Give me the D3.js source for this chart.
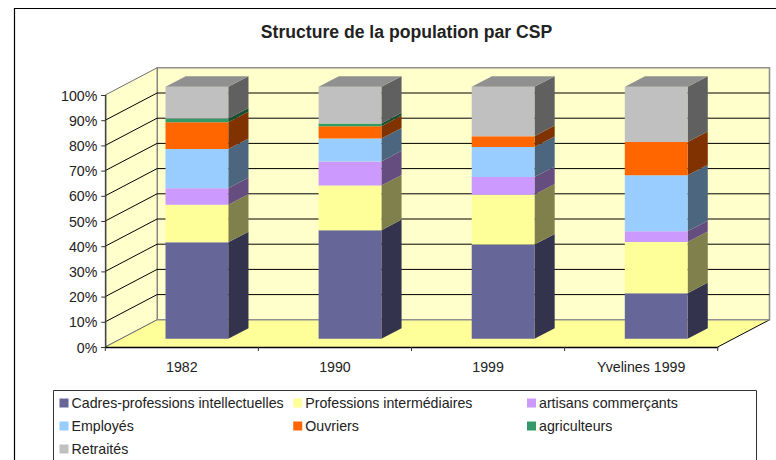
<!DOCTYPE html>
<html>
<head>
<meta charset="utf-8">
<script src="https://cdn.jsdelivr.net/npm/d3@7"></script>
<style>
html, body { margin: 0; padding: 0; background: #fff; }
svg { display: block; }
text { font-family: "Liberation Sans", Arial, sans-serif; fill: #222; }
</style>
</head>
<body>
<div id="chart"></div>
<script>
const categories = ["1982", "1990", "1999", "Yvelines 1999"];
const seriesNames = ["Cadres-professions intellectuelles", "Professions intermédiaires", "artisans commerçants", "Employés", "Ouvriers", "agriculteurs", "Retraités"];
const seriesColors = ["#666699", "#FFFF99", "#CC99FF", "#99CCFF", "#FF6600", "#339966", "#C0C0C0"];
const sideColors = ["#33334D", "#80804D", "#664D80", "#4D6680", "#803300", "#1A4D33", "#606060"];
const cadres = [38.3, 43.1, 37.4, 18.1];
const intermediaires = [14.9, 17.7, 19.8, 20.3];
const artisans = [6.6, 9.6, 7.0, 4.3];
const employes = [15.5, 9.1, 11.9, 22.2];
const ouvriers = [10.6, 4.9, 4.3, 13.2];
const agriculteurs = [1.5, 1.1, 0, 0];
const retraites = [12.6, 14.5, 19.6, 21.9];
const yTicks = [0, 10, 20, 30, 40, 50, 60, 70, 80, 90, 100];

function draw_chart() {
    const width = 776, height = 460;
    const svg = d3.select("#chart").append("svg")
        .attr("width", width)
        .attr("height", height);

    // plot geometry, front plane plus the depth offset of the 3d box
    const front = {left: 105.3, right: 717.7, bottom: 347, top: 95};
    const depth = {x: 51.8, y: -27.2};
    const barPlane = 0.3, barDepth = 0.39;

    const x = d3.scaleBand().domain(categories)
        .range([front.left, front.right])
        .paddingInner(0).paddingOuter(0);
    const y = d3.scaleLinear().domain([0, 100]).range([front.bottom, front.top]);
    const barW = x.bandwidth() * 0.41;

    const rows = categories.map((c, i) => {
        const r = {cat: c};
        [cadres, intermediaires, artisans, employes, ouvriers, agriculteurs, retraites]
            .forEach((s, j) => { r[seriesNames[j]] = s[i]; });
        return r;
    });
    const stacked = d3.stack().keys(seriesNames)(rows);

    const pts = a => a.map(p => p.join(",")).join(" ");
    const back = (px, py, f) => [px + depth.x * f, py + depth.y * f];

    // outer frame, runs off the right and bottom of the picture
    svg.append("path")
        .attr("d", `M14.5,${height}V8.5H${width}`)
        .attr("fill", "none").attr("stroke", "#000").attr("stroke-width", 1.2);

    svg.append("text")
        .attr("x", 406.5).attr("y", 38)
        .attr("text-anchor", "middle")
        .style("font-size", "17.6px").style("font-weight", "bold")
        .text("Structure de la population par CSP");

    // walls and floor
    svg.append("polygon")
        .attr("points", pts([back(front.left, y(0), 1), back(front.right, y(0), 1), back(front.right, y(100), 1), back(front.left, y(100), 1)]))
        .attr("fill", "#FFFFCC").attr("stroke", "#909090").attr("stroke-width", 1.6);
    svg.append("polygon")
        .attr("points", pts([[front.left, y(0)], back(front.left, y(0), 1), back(front.left, y(100), 1), [front.left, y(100)]]))
        .attr("fill", "#FFFFCC").attr("stroke", "#707070");
    svg.append("polygon")
        .attr("points", pts([[front.left, y(0)], [front.right, y(0)], back(front.right, y(0), 1), back(front.left, y(0), 1)]))
        .attr("fill", "#FFFF99").attr("stroke", "none");

    // gridlines on side wall and back wall
    const grid = svg.append("g").attr("stroke", "#000").attr("stroke-width", 1);
    yTicks.filter(t => t > 0 && t < 100).forEach(t => {
        const b0 = back(front.left, y(t), 1), b1 = back(front.right, y(t), 1);
        grid.append("line").attr("x1", front.left).attr("y1", y(t)).attr("x2", b0[0]).attr("y2", b0[1]);
        grid.append("line").attr("x1", b0[0]).attr("y1", b0[1]).attr("x2", b1[0]).attr("y2", b1[1]);
    });

    // floor edges
    svg.append("line")
        .attr("x1", front.left).attr("y1", y(0))
        .attr("x2", back(front.left, y(0), 1)[0]).attr("y2", back(front.left, y(0), 1)[1])
        .attr("stroke", "#707070");
    svg.append("line")
        .attr("x1", front.right).attr("y1", y(0))
        .attr("x2", back(front.right, y(0), 1)[0]).attr("y2", back(front.right, y(0), 1)[1])
        .attr("stroke", "#000");
    svg.append("line")
        .attr("x1", back(front.left, y(0), 1)[0]).attr("y1", back(front.left, y(0), 1)[1])
        .attr("x2", back(front.right, y(0), 1)[0]).attr("y2", back(front.right, y(0), 1)[1])
        .attr("stroke", "#909090").attr("stroke-width", 1.4);

    // bars
    const bars = svg.append("g");
    categories.forEach(c => {
        const x0 = x(c) + x.bandwidth() / 2 - barW / 2 + depth.x * barPlane - 0.5;
        const x1 = x0 + barW;
        stacked.forEach((layer, j) => {
            const d = layer.find(e => e.data.cat === c);
            if (d[1] - d[0] <= 0) return;
            const yb = y(d[0]) + depth.y * barPlane, yt = y(d[1]) + depth.y * barPlane;
            const dx = depth.x * barDepth, dy = depth.y * barDepth;
            bars.append("polygon")
                .attr("points", pts([[x1, yb], [x1 + dx, yb + dy], [x1 + dx, yt + dy], [x1, yt]]))
                .attr("fill", sideColors[j]);
            bars.append("polygon")
                .attr("points", pts([[x0, yb], [x1, yb], [x1, yt], [x0, yt]]))
                .attr("fill", seriesColors[j]);
            if (j === stacked.length - 1) {
                bars.append("polygon")
                    .attr("points", pts([[x0, yt], [x1, yt], [x1 + dx, yt + dy], [x0 + dx, yt + dy]]))
                    .attr("fill", "#909090");
            }
        });
    });

    // axes
    const yAxis = d3.axisLeft(y).tickValues(yTicks).tickSize(4).tickPadding(4).tickFormat(d => d + "%");
    const gy = svg.append("g").attr("transform", `translate(${front.left},0)`).call(yAxis);
    gy.select(".domain").attr("stroke", "#333").attr("stroke-width", 1.2);
    gy.selectAll("line").attr("stroke", "#333");
    gy.selectAll("text").style("font-size", "14.2px").attr("dy", "0.36em");

    const xAxis = d3.axisBottom(x).tickSize(0).tickPadding(15);
    const gx = svg.append("g").attr("transform", `translate(0,${front.bottom})`).call(xAxis);
    gx.select(".domain").attr("stroke", "#000").attr("stroke-width", 1.3);
    gx.selectAll("text").style("font-size", "14.2px");
    gx.selectAll(".edge").data(x.domain().map(d => x(d)).concat([front.right]))
        .enter().append("line").attr("class", "edge")
        .attr("x1", d => d).attr("x2", d => d)
        .attr("y1", 0).attr("y2", 4)
        .attr("stroke", "#333");

    // legend
    const legend = svg.append("g");
    legend.append("path")
        .attr("d", `M53.5,${height}V390.5H756.5V${height}`)
        .attr("fill", "#fff").attr("stroke", "#333").attr("stroke-width", 1);
    const colX = d3.scalePoint().domain([0, 1, 2]).range([59.5, 527]);
    const rowY = d3.scalePoint().domain([0, 1, 2]).range([403, 449]);
    seriesNames.forEach((name, i) => {
        const gi = legend.append("g")
            .attr("transform", `translate(${colX(i % 3)},${rowY(Math.floor(i / 3))})`);
        gi.append("rect").attr("x", 0).attr("y", -4.5).attr("width", 9).attr("height", 9).attr("fill", seriesColors[i]);
        gi.append("text").attr("x", 12).attr("y", 0).attr("dy", "0.35em").style("font-size", "14.2px").text(name);
    });
}

draw_chart();
</script>
</body>
</html>
